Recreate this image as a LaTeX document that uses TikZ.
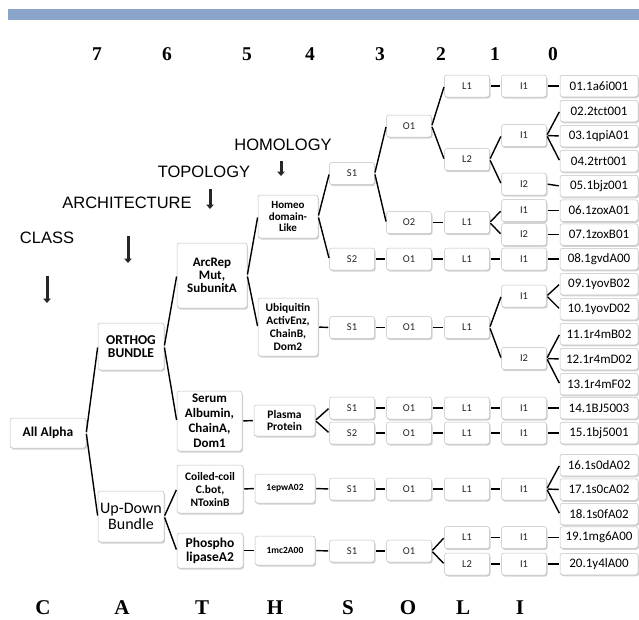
\documentclass[tikz,border=0pt]{standalone}
\usepackage{fontspec}
\setmainfont{Carlito}
\newfontfamily\lblfont{Liberation Sans}
\newfontfamily\hdrfont{Liberation Serif}
\usepackage{tikz}
\usetikzlibrary{arrows.meta,shadows}
\definecolor{barc}{RGB}{139,164,201}
\tikzset{
  box/.style={rectangle,rounded corners=2.5pt,draw=black!25,line width=0.5pt,fill=white,
    drop shadow={opacity=0.35,shadow xshift=1pt,shadow yshift=-1.5pt},inner sep=0pt,align=center},
  cls/.style={box,font=\bfseries\fontsize{13.5}{13.5}\selectfont},
  sm/.style={box,minimum width=45pt,minimum height=22pt,font=\fontsize{10.5}{11}\selectfont,text=black!85},
  leaf/.style={box,minimum width=78pt,minimum height=21.5pt,font=\fontsize{13}{13}\selectfont},
  lvl/.style={font=\lblfont\fontsize{16.5}{16.5}\selectfont,inner sep=0pt},
  num/.style={font=\hdrfont\bfseries\fontsize{19.5}{19.5}\selectfont,inner sep=0pt},
  cath/.style={font=\hdrfont\bfseries\fontsize{21}{21}\selectfont,inner sep=0pt},
  link/.style={line width=1.4pt,black,shorten <=1pt,shorten >=1pt},
  darr/.style={-{Triangle[length=4.5pt,width=7.5pt]},line width=3pt,black!85},
}
\begin{document}
\begin{tikzpicture}[x=1pt,y=-1pt]
  \useasboundingbox (0,0) rectangle (639,619);
  \fill[barc] (8,9) rectangle (639,20);
  % level numbers and CATH letters
  \foreach \d/\x in {7/97,6/167,5/247,4/310,3/380,2/441,1/495,0/553}{
    \node[num] (n\d) at (\x,54) {\d};}
  \foreach \c/\x in {C/43,A/122,T/202,H/275,S/348,O/408,L/463,I/520}{
    \node[cath] (k\c) at (\x,608) {\c};}
  % level names with their arrows
  \node[lvl] (hom) at (283,145) {HOMOLOGY}; \node[lvl] (top) at (204,172) {TOPOLOGY};
  \node[lvl] (arc) at (127,203) {ARCHITECTURE}; \node[lvl] (cla) at (47,238) {CLASS};
  \foreach \n/\x/\ya/\yb in {hom/281/161/176, top/210/189/209, arc/128/236/263, cla/47/276/303}{
    \coordinate (\n a) at (\x,\ya); \coordinate (\n b) at (\x,\yb);
    \draw[darr] (\n a) -- (\n b);}
  % C, A, T, H boxes
  \node[cls,minimum width=76pt,minimum height=30pt] (alpha) at (48,433) {All Alpha};
  \node[cls,minimum width=66pt,minimum height=47pt] (orthog) at (131,346.5) {ORTHOG\\BUNDLE};
  \node[box,minimum width=66pt,minimum height=51pt,font=\fontsize{16}{16.5}\selectfont] (updown) at (131,516.5) {Up-Down\\Bundle};
  \node[box,minimum width=70pt,minimum height=65pt,font=\bfseries\fontsize{13}{13}\selectfont] (arcrep) at (212,275.5) {ArcRep\\Mut,\\SubunitA};
  \node[box,minimum width=65pt,minimum height=60pt,font=\bfseries\fontsize{13}{15}\selectfont] (serum) at (209.5,421) {Serum\\Albumin,\\ChainA,\\Dom1};
  \node[box,minimum width=66pt,minimum height=48pt,font=\bfseries\fontsize{11.5}{13}\selectfont] (coiled) at (210,489) {Coiled-coil\\C.bot,\\NToxinB};
  \node[box,minimum width=66pt,minimum height=35pt,font=\bfseries\fontsize{13.5}{14}\selectfont] (phospho) at (210,550.5) {Phospho\\lipaseA2};
  \node[box,minimum width=60pt,minimum height=43pt,font=\bfseries\fontsize{11}{11.7}\selectfont] (homeo) at (288,216.5) {Homeo\\domain-\\Like};
  \node[box,minimum width=60pt,minimum height=58pt,font=\bfseries\fontsize{11.5}{12.8}\selectfont] (ubiq) at (288,327) {Ubiquitin\\ActivEnz,\\ChainB,\\Dom2};
  \node[box,minimum width=61pt,minimum height=31pt,font=\bfseries\fontsize{11.5}{12.5}\selectfont] (plasma) at (284.5,420.5) {Plasma\\Protein};
  \node[box,minimum width=60pt,minimum height=29pt,font=\bfseries\fontsize{9.5}{10}\selectfont] (epw) at (285,488.5) {1epwA02};
  \node[box,minimum width=60pt,minimum height=29pt,font=\bfseries\fontsize{9.5}{10}\selectfont] (mc2) at (285,550.5) {1mc2A00};
  % S, O, L, I boxes
  \foreach \n/\x/\y/\t in {s1/352/173.5/S1, s2/352/259/S2, s3/352/327.5/S1, s4/352/408/S1, s5/352/433/S2,
      s6/352/489/S1, s7/352/551/S1,
      o1/409/126/O1, o2/409/222.5/O2, o3/409/259/O1, o4/409/327.5/O1, o5/409/408/O1, o6/409/433/O1,
      o7/409/489/O1, o8/409/551/O1,
      l1/467/86/L1, l2/467/159.5/L2, l3/467/222.5/L1, l4/467/259/L1, l5/467/327.5/L1, l6/467/408/L1,
      l7/467/433/L1, l8/467/489/L1, l9/467/537.5/L1, l10/467/564/L2,
      i1/524/86/I1, i2/524/135.5/I1, i3/524/184/I2, i4/524/210.5/I1, i5/524/234.5/I2, i6/524/259/I1,
      i7/524/296/I1, i8/524/358.5/I2, i9/524/408/I1, i10/524/433/I1, i11/524/489/I1, i12/524/537.5/I1,
      i13/524/564/I1}{
    \node[sm] (\n) at (\x,\y) {\t};}
  % domains
  \foreach \n/\y/\t in {1/86/01.1a6i001, 2/111/02.2tct001, 3/136/03.1qpiA01, 4/161/04.2trt001,
      5/186/05.1bjz001, 6/210.5/06.1zoxA01, 7/234.5/07.1zoxB01, 8/259/08.1gvdA00, 9/284/09.1yovB02,
      10/309/10.1yovD02, 11/334/11.1r4mB02, 12/359/12.1r4mD02, 13/384/13.1r4mF02, 14/408/14.1BJ5003,
      15/433/15.1bj5001, 16/465/16.1s0dA02, 17/489.5/17.1s0cA02, 18/514/18.1s0fA02,
      19/537.5/19.1mg6A00, 20/564/20.1y4lA00}{
    \node[leaf] (f\n) at (599,\y) {\t};}
  % tree links
  \foreach \a/\b in {alpha/orthog, alpha/updown, orthog/arcrep, orthog/serum, updown/coiled, updown/phospho,
      arcrep/homeo, arcrep/ubiq, serum/plasma, coiled/epw, phospho/mc2,
      homeo/s1, homeo/s2, ubiq/s3, plasma/s4, plasma/s5, epw/s6, mc2/s7,
      s1/o1, s1/o2, s2/o3, s3/o4, s4/o5, s5/o6, s6/o7, s7/o8,
      o1/l1, o1/l2, o2/l3, o3/l4, o4/l5, o5/l6, o6/l7, o7/l8, o8/l9, o8/l10,
      l1/i1, l2/i2, l2/i3, l3/i4, l3/i5, l4/i6, l5/i7, l5/i8, l6/i9, l7/i10, l8/i11, l9/i12, l10/i13,
      i1/f1, i2/f2, i2/f3, i2/f4, i3/f5, i4/f6, i5/f7, i6/f8, i7/f9, i7/f10, i8/f11, i8/f12, i8/f13,
      i9/f14, i10/f15, i11/f16, i11/f17, i11/f18, i12/f19, i13/f20}{
    \draw[link] (\a.east) -- (\b.west);}
\end{tikzpicture}
\end{document}
